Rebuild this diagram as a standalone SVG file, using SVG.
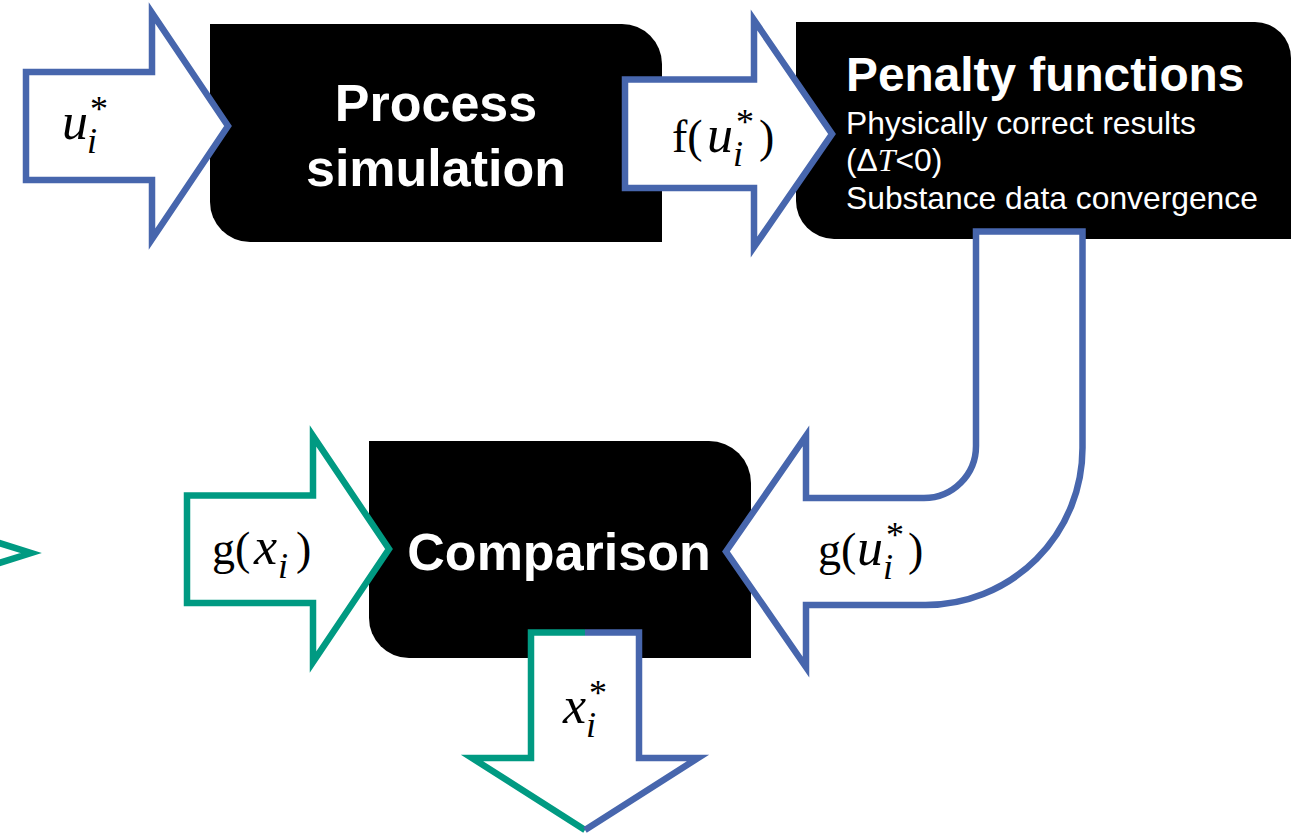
<svg xmlns="http://www.w3.org/2000/svg" width="1291" height="836" viewBox="0 0 1291 836">
  <style>
    .box { fill: #000000; }
    .title { font-family: "Liberation Sans", Arial, sans-serif; font-weight: bold; fill: #ffffff; }
    .body { font-family: "Liberation Sans", Arial, sans-serif; fill: #ffffff; font-size: 31.8px; }
    .arrow { fill: #ffffff; stroke-width: 6.5; stroke-linejoin: miter; stroke-miterlimit: 10; }
    .blue { stroke: #4766ad; }
    .teal { stroke: #009a82; }
    .line { fill: none; stroke-width: 6.5; stroke-linejoin: miter; stroke-miterlimit: 10; }
    .m { font-family: "Liberation Serif", "Times New Roman", serif; font-size: 46px; fill: #000000; }
    .it { font-style: italic; font-size: 52px; }
    .s { font-size: 36px; }
  </style>

  <!-- process blocks -->
  <g id="process-simulation">
    <path class="box" d="M210,24 H622 A40,40 0 0 1 662,64 V242 H250 A40,40 0 0 1 210,202 Z"/>
    <text class="title" font-size="52" text-anchor="middle" x="436" y="121">Process</text>
    <text class="title" font-size="52" text-anchor="middle" x="436" y="186">simulation</text>
  </g>

  <g id="penalty-functions">
    <path class="box" d="M796,22 H1255 A36,36 0 0 1 1291,58 V239 H834 A38,38 0 0 1 796,201 Z"/>
    <text class="title" font-size="47.8" x="846" y="91">Penalty functions</text>
    <text class="body" x="846" y="134">Physically correct results</text>
    <text class="body" x="846" y="171">(Δ<tspan font-family="Liberation Serif, serif" font-style="italic">T</tspan>&lt;0)</text>
    <text class="body" x="846" y="209">Substance data convergence</text>
  </g>

  <g id="comparison">
    <path class="box" d="M369,441 H709 A42,42 0 0 1 751,483 V658 H409 A40,40 0 0 1 369,618 Z"/>
    <text class="title" font-size="52" text-anchor="middle" x="559" y="570">Comparison</text>
  </g>

  <!-- block arrows -->
  <g id="connectors">
    <!-- partial arrow tip at the left edge -->
    <polyline class="line teal" points="-4,542 31,553 -4,564"/>

    <!-- input u_i* -->
    <path class="arrow blue" d="M26,72 H152 V13 L228,126 L152,239 V180 H26 Z"/>
    <!-- simulation output f(u_i*) -->
    <path class="arrow blue" d="M625,79.5 H754 V20 L832,134 L754,247 V188 H625 Z"/>
    <!-- measured data g(x_i) -->
    <path class="arrow teal" d="M187,495.5 H313 V436 L389,549 L313,662 V603 H187 Z"/>
    <!-- bent return arrow g(u_i*) -->
    <path class="arrow blue" d="M726,551.5 L806,436 V498 H924 A52,52 0 0 0 976,446 V231.5 H1082.5 V448 A157,157 0 0 1 925.5,605 H806 V667 Z"/>
    <!-- result x_i*, two-coloured outline -->
    <path fill="#ffffff" d="M531,632.5 H639 V758 H698 L585,830 L472,758 H531 Z"/>
    <path class="line teal" d="M585,632.5 H531 V758 H472 L585,830"/>
    <path class="line blue" d="M585,632.5 H639 V758 H698 L585,830"/>
  </g>

  <!-- arrow labels -->
  <g id="labels">
    <text class="m"><tspan class="it" x="62" y="139">u</tspan><tspan class="it s" x="87" y="153">i</tspan><tspan class="s" x="90" y="121">*</tspan></text>
    <text class="m"><tspan x="672" y="152">f(</tspan><tspan class="it" x="707" y="152">u</tspan><tspan class="it s" x="733" y="166">i</tspan><tspan class="s" x="736" y="134">*</tspan><tspan x="759" y="152">)</tspan></text>
    <text class="m"><tspan x="212" y="564">g(</tspan><tspan class="it" x="254" y="564">x</tspan><tspan class="it s" x="278" y="578">i</tspan><tspan x="296" y="564">)</tspan></text>
    <text class="m"><tspan x="818" y="565">g(</tspan><tspan class="it" x="857" y="565">u</tspan><tspan class="it s" x="883" y="579">i</tspan><tspan class="s" x="886" y="547">*</tspan><tspan x="908" y="565">)</tspan></text>
    <text class="m"><tspan class="it" x="563" y="723">x</tspan><tspan class="it s" x="586" y="737">i</tspan><tspan class="s" x="589" y="705">*</tspan></text>
  </g>
</svg>
